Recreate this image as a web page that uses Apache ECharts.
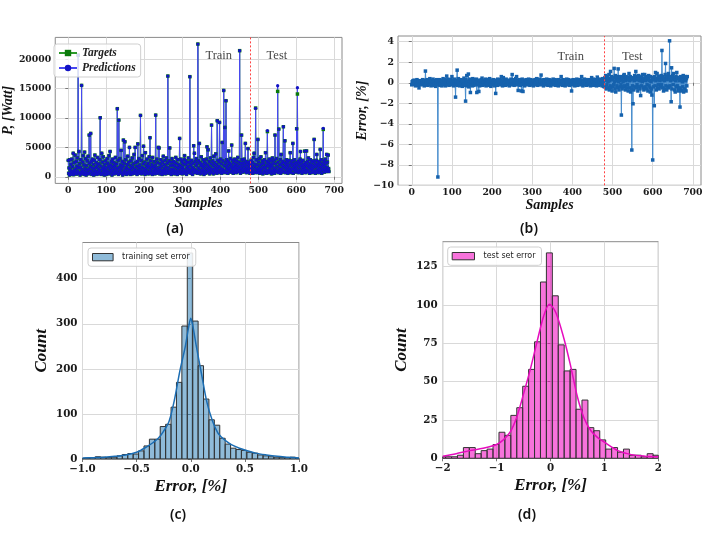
<!DOCTYPE html>
<html><head><meta charset="utf-8">
<script src="https://cdn.jsdelivr.net/npm/echarts@6/dist/echarts.min.js"></script>
<style>html,body{margin:0;padding:0;background:#fff}#c{width:706px;height:537px}</style>
</head><body><div id="c"></div>
<script>
// ---------- panel (a): power targets / predictions (W) ----------
const predictions = [
2800,600,1500,300,2900,1200,400,2100,800,3000,500,1700,900,4000,350,2400,1100,600,3700,1300,
700,2600,450,1800,3200,900,20700,1500,4300,600,2200,300,1600,2900,800,15560,1200,500,2500,3600,
900,2000,400,4200,1400,700,3100,300,1900,1100,2700,600,3500,1300,500,7100,2300,800,1700,7380,
1000,2600,400,1500,3000,700,2100,300,1200,2800,3700,600,1600,900,2400,400,1900,3300,800,1400,
500,2200,1100,2900,10050,700,1800,400,4000,1300,2500,600,3400,900,1600,300,2100,1200,2700,800,
1500,400,3100,1000,2300,600,1800,3600,500,1400,4300,800,2000,1100,2600,300,1700,3000,700,1300,
2400,500,1900,900,3300,600,1500,2200,800,11590,1200,2800,400,9650,1600,700,3100,1000,2000,4500,
600,1400,2600,300,1800,6250,900,2300,500,5960,1200,2900,700,1600,400,2100,3500,800,1300,2500,
600,5000,1000,1900,400,2700,1400,800,3200,500,1700,2200,900,3800,600,1300,5000,700,2400,1100,
1800,400,2600,5600,900,1500,3100,600,2000,1200,10450,800,2800,500,1600,3600,1000,2200,5200,700,
1400,2500,400,4100,1100,1900,600,3000,900,1500,2300,500,1800,3400,800,6650,1200,2700,600,1600,
2100,400,3300,1000,1700,700,2600,1300,500,2000,10500,900,1500,3000,600,2400,1100,5000,800,4900,
1600,500,2200,1200,2900,700,1800,400,2500,1000,3500,600,1400,2100,900,2800,500,1700,3200,1100,
700,2300,17150,1500,600,2700,1000,4900,800,1900,2500,400,1300,3100,900,2000,600,2600,1200,1800,
500,2400,1000,3300,700,1600,2200,400,2900,1100,1500,800,2000,6530,600,1900,3000,900,1400,2600,
500,1700,2300,800,1200,3000,3600,600,2100,1000,2700,400,1500,2400,900,1800,3200,700,1300,2500,
17040,900,2000,600,2800,1100,1600,400,2300,1400,5280,800,4000,1200,2600,700,1900,3100,1000,2200,
600,22600,1500,2700,800,5680,1300,2400,500,1900,3400,1000,2100,700,1600,2900,1200,400,2500,1800,
900,2300,600,3000,1400,5100,800,2000,4600,1100,1700,2600,500,1500,3200,900,2200,8800,1300,700,
2700,1900,500,3500,1200,2400,800,1600,3900,1000,2100,600,9540,1400,2800,900,1800,2500,9260,700,
1500,3000,1100,2200,600,5850,1300,2700,800,14700,1900,1000,8400,2400,700,12950,1600,2900,1200,2000,
600,2600,4400,1400,900,2300,1700,3100,800,2000,5400,1100,1500,2800,600,2400,1300,1800,3000,900,
2200,1600,700,2700,1200,2000,3300,900,1500,2500,1000,21470,1800,600,2300,1400,7100,2900,1100,1900,
800,2400,1500,3000,1000,2000,5680,1300,2600,700,1700,2200,1200,4800,900,2500,1400,1900,600,2100,
1500,2800,700,1800,1200,2400,600,3300,1000,4000,1600,2100,800,11650,1400,2900,700,2000,1200,6360,
900,2500,1500,3100,600,1900,1200,3400,800,2200,1400,2700,500,1700,2300,1000,2900,700,1600,4100,
1200,2000,600,2600,7840,1000,1800,2400,700,3000,1300,2100,900,1600,2700,500,1900,3200,1100,2300,
800,1500,2800,600,7100,1200,2200,900,3100,1700,1000,15500,2500,700,8120,1400,2000,1100,2900,600,
3800,1300,2300,800,1800,2600,8520,1000,1600,2400,6130,700,2100,1400,2900,900,1700,2500,600,2000,
1200,2800,800,1500,4100,1000,2300,700,1900,2700,1300,5680,600,2200,1600,2900,1100,1800,2400,800,
1400,8180,2000,15170,1000,2600,700,1700,2300,1200,3000,4300,900,1900,2500,600,1500,2800,1100,2100,
800,1600,4370,1300,2400,700,2000,4400,1100,1800,2600,900,3200,1500,2200,600,1700,2900,1200,2000,
700,2500,1400,1900,800,2700,1000,6360,1600,2300,600,1800,2800,1100,3800,900,2100,1500,2600,700,
1900,1200,2400,4660,1000,1700,2900,600,2200,1400,2000,8240,1100,2600,800,1800,3000,1300,2300,900,
3800,1600,2500,1000,3700,1400,900];
const targets = [
2800,600,1500,300,2900,1200,400,2100,800,3000,500,1700,900,4000,350,2400,1100,600,3700,1300,
700,2600,450,1800,3200,900,20700,1500,4300,600,2200,300,1600,2900,800,15560,1200,500,2500,3600,
900,2000,400,4200,1400,700,3100,300,1900,1100,2700,600,3500,1300,500,7100,2300,800,1700,7380,
1000,2600,400,1500,3000,700,2100,300,1200,2800,3700,600,1600,900,2400,400,1900,3300,800,1400,
500,2200,1100,2900,10050,700,1800,400,4000,1300,2500,600,3400,900,1600,300,2100,1200,2700,800,
1500,400,3100,1000,2300,600,1800,3600,500,1400,4300,800,2000,1100,2600,300,1700,3000,700,1300,
2400,500,1900,900,3300,600,1500,2200,800,11590,1200,2800,400,9650,1600,700,3100,1000,2000,4500,
600,1400,2600,300,1800,6250,900,2300,500,5960,1200,2900,700,1600,400,2100,3500,800,1300,2500,
600,5000,1000,1900,400,2700,1400,800,3200,500,1700,2200,900,3800,600,1300,5000,700,2400,1100,
1800,400,2600,5600,900,1500,3100,600,2000,1200,10450,800,2800,500,1600,3600,1000,2200,5200,700,
1400,2500,400,4100,1100,1900,600,3000,900,1500,2300,500,1800,3400,800,6650,1200,2700,600,1600,
2100,400,3300,1000,1700,700,2600,1300,500,2000,10500,900,1500,3000,600,2400,1100,5000,800,4900,
1600,500,2200,1200,2900,700,1800,400,2500,1000,3500,600,1400,2100,900,2800,500,1700,3200,1100,
700,2300,17150,1500,600,2700,1000,4900,800,1900,2500,400,1300,3100,900,2000,600,2600,1200,1800,
500,2400,1000,3300,700,1600,2200,400,2900,1100,1500,800,2000,6530,600,1900,3000,900,1400,2600,
500,1700,2300,800,1200,3000,3600,600,2100,1000,2700,400,1500,2400,900,1800,3200,700,1300,2500,
17040,900,2000,600,2800,1100,1600,400,2300,1400,5280,800,4000,1200,2600,700,1900,3100,1000,2200,
600,22600,1500,2700,800,5680,1300,2400,500,1900,3400,1000,2100,700,1600,2900,1200,400,2500,1800,
900,2300,600,3000,1400,5100,800,2000,4600,1100,1700,2600,500,1500,3200,900,2200,8800,1300,700,
2700,1900,500,3500,1200,2400,800,1600,3900,1000,2100,600,9540,1400,2800,900,1800,2500,9260,700,
1500,3000,1100,2200,600,5850,1300,2700,800,14700,1900,1000,8400,2400,700,12950,1600,2900,1200,2000,
600,2600,4400,1400,900,2300,1700,3100,800,2000,5400,1100,1500,2800,600,2400,1300,1800,3000,900,
2200,1600,700,2700,1200,2000,3300,900,1500,2500,1000,21470,1800,600,2300,1400,7100,2900,1100,1900,
800,2400,1500,3000,1000,2000,5680,1300,2600,700,1700,2200,1200,4800,900,2500,1400,1900,600,2100,
1500,2800,700,1800,1200,2400,600,3300,1000,4000,1600,2100,800,11700,1400,2900,700,2000,1200,6360,
900,2500,1500,3100,600,1900,1200,3400,800,2200,1400,2700,500,1700,2300,1000,2900,700,1600,4100,
1200,2000,600,2600,7700,1000,1800,2400,700,3000,1300,2100,900,1600,2700,500,1900,3200,1100,2300,
800,1500,2800,600,7100,1200,2200,900,3100,1700,1000,14540,2500,700,8120,1400,2000,1100,2900,600,
3800,1300,2300,800,1800,2600,8520,1000,1600,2400,6130,700,2100,1400,2900,900,1700,2500,600,2000,
1200,2800,800,1500,4100,1000,2300,700,1900,2700,1300,5680,600,2200,1600,2900,1100,1800,2400,800,
1400,8180,2000,14090,1000,2600,700,1700,2300,1200,3000,4300,900,1900,2500,600,1500,2800,1100,2100,
800,1600,4370,1300,2400,700,2000,4400,1100,1800,2600,900,3200,1500,2200,600,1700,2900,1200,2000,
700,2500,1400,1900,800,2700,1000,6360,1600,2300,600,1800,2800,1100,3800,900,2100,1500,2600,700,
1900,1200,2400,4660,1000,1700,2900,600,2200,1400,2000,8070,1100,2600,800,1800,3000,1300,2300,900,
3800,1600,2500,1000,3700,1400,900];

// ---------- panel (b): relative error per sample (%) ----------
const errors = [
-0.2,0.1,-0.1,0.2,0.05,-0.15,0.25,-0.05,0.1,-0.3,0.15,0,-0.2,0.3,-0.1,0.1,-0.25,0.2,-0.5,0.1,
0.05,-0.1,0.2,-0.2,0.15,-0.05,0.1,0.3,-0.15,0,0.2,-0.3,0.1,-0.1,1.14,0.25,-0.2,0.05,-0.1,0.3,
-0.25,0.15,0,-0.15,0.2,0.4,-0.1,0.1,-0.3,0.25,-0.05,0.15,-0.2,0.35,0.05,-0.25,0.1,-0.1,0.2,-0.35,
0.15,-0.05,0.3,-0.2,0.1,-9.19,0.2,-0.15,0.05,0.3,-0.25,0.1,-0.1,0.25,0,-0.3,0.15,-0.05,0.4,-0.2,
0.1,0.3,-0.15,0.05,-0.3,0.2,-0.1,0.65,0.15,-0.2,0.35,-0.05,0.1,-0.25,0.25,0,-0.15,0.3,-0.1,0.15,
0.6,-0.2,0.05,0.25,-0.3,0.1,-0.1,0.35,-0.2,-1.4,0.2,-0.05,0.15,1.23,-0.25,0.1,0.4,-0.1,0.2,-0.3,
0.05,0.25,-0.15,0.3,-0.05,0.1,-0.35,0.2,0,-0.2,0.45,-0.1,0.15,-0.25,-1.79,0.3,-0.05,0.7,-0.3,0.1,
-0.15,0.85,-0.4,0.2,-0.1,0.35,-0.95,0.05,0.25,-0.2,0.1,-0.3,0.4,-0.05,0.15,-0.25,0.3,-0.1,0.2,-0.15,
0.1,0.35,-0.95,0.05,-0.2,0.25,-0.05,-0.85,0.15,-0.3,0.2,0,-0.15,0.3,-0.1,0.45,-0.25,0.1,0.2,-0.05,
0.25,-0.2,0.1,-0.1,0.35,-0.3,0.05,0.2,-0.15,0.3,-0.05,0.15,-0.25,0.1,0.4,-0.1,0.2,-0.35,0.05,0.25,
-0.15,0.1,-0.05,0.3,-0.2,0.15,-0.3,0.05,0.25,-1.04,0.1,-0.1,0.2,-0.25,0.35,0,0.15,-0.15,0.3,-0.05,
0.1,-0.2,0.25,0.6,-0.1,0.15,-0.3,0.05,0.5,-0.15,0.2,-0.05,0.3,-0.25,0.1,0.35,-0.1,0.05,-0.2,0.15,
0.25,-0.1,0.1,-0.3,0.2,0.05,-0.15,0.35,-0.05,0.15,0.8,-0.2,0.1,-0.1,0.3,-0.25,0.05,0.2,-0.15,0.4,
-0.05,0.6,0.1,-0.2,0.25,-0.75,0.15,-0.1,0.3,0.05,-0.25,0.2,-0.05,-0.8,0.1,0.35,-0.15,-0.85,0.2,-0.1,
0.15,-0.3,0.05,0.25,-0.1,0.3,-0.2,0.1,0,0.2,-0.15,0.35,-0.05,0.1,-0.25,0.15,0.3,-0.1,0.05,-0.2,
0.25,-0.05,0.15,-0.3,0.2,0.05,-0.15,0.3,-0.1,0.1,-0.2,0.4,-0.05,0.15,-0.25,0.2,0,-0.15,0.35,-0.1,
0.1,0.2,0.75,-0.2,0.05,0.25,-0.1,0.15,-0.3,0.3,-0.05,0.1,-0.2,0.25,0.05,-0.15,0.35,-0.1,0.2,-0.25,
0.15,-0.05,0.3,-0.15,0.1,0.2,-0.3,0.05,0.25,-0.1,0.15,-0.2,0.35,0,-0.15,0.2,-0.05,0.3,-0.25,0.1,
-0.1,0.25,-0.2,0.15,0.05,-0.3,0.3,-0.05,0.1,-0.15,0.2,-0.1,0.6,-0.2,0.15,0.05,-0.25,0.3,-0.1,0.2,
-0.05,0.15,-0.3,0.25,0.1,-0.15,0.35,-0.1,0.05,-0.2,0.3,-0.05,0.2,-0.25,0.1,0.15,-0.15,0.25,-0.8,0.05,
0.2,-0.1,0.3,-0.2,0.1,0.05,-0.3,0.25,-0.05,0.15,-0.15,0.35,0,-0.25,0.2,0.1,-0.1,0.3,-0.2,0.05,
0.15,-0.05,0.25,0.6,-0.15,0.1,-0.3,0.2,0.05,-0.1,0.35,-0.2,0.15,-0.05,0.3,-0.25,0.1,0.2,-0.15,0.05,
-0.1,0.3,-0.2,0.15,0.05,-0.3,0.25,-0.05,0.5,-0.15,0.2,-0.1,0.35,-0.25,0.1,0.05,-0.2,0.3,-0.05,0.15,
-0.3,0.2,0.55,-0.1,0.1,-0.25,0.35,-0.05,0.15,-0.2,0.3,0,-0.15,0.25,-0.3,0.4,-0.1,0.2,-0.35,0.3,
-0.4,0.5,0.2,0.7,-0.6,0.3,-0.2,0.6,-0.5,0.1,0.4,0.8,-0.7,0.2,-0.3,1.1,-0.5,0.4,0.6,-0.8,
0.3,-0.4,0.5,-0.2,1.4,0.1,-0.6,0.7,-0.9,0.2,0.5,-0.3,0.6,-0.5,1.35,0.1,-0.7,0.4,0.2,-0.4,
0.6,-0.2,-3.15,0.3,-0.6,0.5,0.1,-0.4,0.7,0.8,-0.3,0.4,-0.7,0.2,0.6,-0.5,0.3,-0.2,0.5,-0.8,
0.4,0.9,-0.5,0.2,0.6,-0.9,0.3,-0.6,-6.56,0.5,-0.3,-2.05,0.4,-0.7,0.2,0.7,-0.4,0.3,1.1,-0.5,
0.6,-0.2,0.5,-0.8,0.3,0.7,-0.4,0.2,-0.6,0.4,-1.25,0.5,-0.3,0.6,0.1,0.8,-0.5,0.3,-0.7,0.4,
0.8,-0.4,0.2,0.6,-0.6,0.3,-0.2,0.5,-0.8,0.4,0.7,-0.3,0.2,-0.5,-0.9,0.6,0.1,-0.6,-1.2,0.3,
-7.53,0.5,-0.4,0.3,-2.24,0.6,-0.3,1.0,0.2,-0.7,0.4,0.9,-0.5,0.3,-0.2,0.6,-0.6,0.5,0.2,0.6,
-0.4,0.7,-0.2,3.15,0.3,-0.5,0.6,-0.8,0.4,0.2,-0.6,0.8,1.88,-0.3,0.5,-0.7,0.3,0.6,-0.4,0.9,
-0.5,0.4,4.09,-0.3,0.6,0.2,-1.85,1.46,-0.6,0.4,0.7,-0.2,0.9,0.3,-0.7,0.5,-0.9,0.2,0.6,-0.4,
1.0,-0.3,0.5,-0.6,-0.8,0.4,0.2,-0.5,-2.37,0.6,0.3,-0.7,-0.8,0.5,0.1,-0.4,0.7,-0.9,0.3,0.5,
-0.6,0.6,0.2,-0.8,0.4,-0.3,0.6];
const splitSample = 479;              // train / test boundary (sample index)
const phaseNames = ['Train', 'Test'];
const phaseX = [396, 549];            // sample position of the phase captions
const phaseYa = 20600, phaseYb = 2.55;

// ---------- panel (c): training set error histogram ----------
const trainBinStart = -1.032, trainBinWidth = 0.05;
const trainCounts = [1,2,3,5,4,3,4,7,10,12,11,18,29,44,44,72,77,115,170,295,457,306,207,133,87,75,46,33,24,21,19,15,13,9,7,5,4,3,3,4,2];
const trainKdeX = [-1.0,-0.9,-0.8,-0.7,-0.6,-0.5,-0.45,-0.4,-0.35,-0.3,-0.25,-0.2,-0.15,-0.1,-0.05,-0.02,0,0.02,0.05,0.1,0.15,0.2,0.25,0.3,0.35,0.4,0.45,0.5,0.6,0.7,0.8,0.9,1.0];
const trainKdeY = [2,3,4,6,9,15,21,28,36,46,62,84,132,196,250,292,312,294,252,188,125,85,58,45,36,29,24,20,13,9,6,4,2];

// ---------- panel (d): test set error histogram ----------
const testBinStart = -2.056, testBinWidth = 0.11;
const testCounts = [1,1,1,2,7,7,3,5,6,9,17,15,28,33,47,58,76,115,134,106,74,57,58,32,38,20,18,12,6,7,4,6,2,2,1,3,2];
const testKdeX = [-2.0,-1.75,-1.5,-1.25,-1.0,-0.875,-0.75,-0.625,-0.5,-0.375,-0.25,-0.125,-0.02,0.1,0.25,0.375,0.5,0.625,0.75,0.875,1.0,1.25,1.5,1.75,2.0];
const testKdeY = [1.3,3,5,6.5,9,12,17,27,42,58,76,93,100.5,95,78,60,40,26,18,13.5,10.5,5,2.4,1.4,1];

// ---------- ticks ----------
const sampleTicks = [0,100,200,300,400,500,600,700];
const powerTicks = [0,5000,10000,15000,20000];
const errTicksB = [-10,-8,-6,-4,-2,0,2,4];
const errTicksC = [-1.0,-0.5,0.0,0.5,1.0];
const countTicksC = [0,100,200,300,400];
const errTicksD = [-2,-1,0,1,2];
const countTicksD = [0,25,50,75,100,125];
const captions = ['(a)','(b)','(c)','(d)'];

// ---------- build ----------
const chart = echarts.init(document.getElementById('c'), null, {width:706, height:537});
const SERIF = '"Liberation Serif", serif';
const TICKF = '"DejaVu Serif", serif';
const minus = s => String(s).replace('-', '\u2212');

function axis(grid, min, max, ticks, fmt, fs, margin, name, nameGap, nameSize) {
  return {
    gridIndex: grid, type: 'value', min, max, name, nameLocation: 'middle', nameGap,
    nameTextStyle: {fontFamily: SERIF, fontStyle: 'italic', fontWeight: 'bold', fontSize: nameSize, color: '#111'},
    axisLine: {show: false},
    axisTick: {show: true, customValues: ticks, length: 3, lineStyle: {color: '#777'}},
    axisLabel: {customValues: ticks, formatter: fmt, margin, fontFamily: TICKF, fontWeight: 'bold', fontSize: fs, color: '#1a1a1a'},
    splitLine: {show: true, lineStyle: {color: '#d9d9d9', width: 1}}
  };
}
const gridStyle = {show: true, borderColor: '#8a8a8a', borderWidth: 1, backgroundColor: 'transparent'};

function histSeries(name, xi, start, width, counts, fill, edge) {
  return {
    name, type: 'custom', xAxisIndex: xi, yAxisIndex: xi,
    itemStyle: {color: fill, borderColor: edge, borderWidth: 1},
    data: counts.map((c, i) => [start + i * width, start + (i + 1) * width, c]),
    renderItem: (params, api) => {
      const p0 = api.coord([api.value(0), api.value(2)]);
      const p1 = api.coord([api.value(1), 0]);
      const cs = params.coordSys;
      const r = echarts.graphic.clipRectByRect(
        {x: p0[0], y: p0[1], width: p1[0] - p0[0], height: p1[1] - p0[1]},
        {x: cs.x, y: cs.y, width: cs.width, height: cs.height});
      return r && {type: 'rect', shape: r, style: {fill, stroke: edge, lineWidth: 1}};
    }
  };
}
const pairs = arr => arr.map((v, i) => [i, v]);

const splitMark = {
  silent: true, symbol: ['none', 'none'], label: {show: false},
  lineStyle: {color: '#ff4040', type: [2, 2], width: 1}, data: [{xAxis: splitSample}]
};
function phaseSeries(xi, y) {
  return {
    type: 'scatter', xAxisIndex: xi, yAxisIndex: xi, symbolSize: 0, silent: true, z: 10,
    data: phaseNames.map((n, i) => ({value: [phaseX[i], y], name: n})),
    label: {show: true, position: 'inside', formatter: p => p.name, fontFamily: SERIF, fontSize: 12.5, color: '#111'}
  };
}
const capStyle = {fontFamily: '"Noto Sans", sans-serif', fontWeight: 600, fontSize: 14, fill: '#111', align: 'center', verticalAlign: 'middle'};

chart.setOption({
  animation: false,
  backgroundColor: '#fff',
  grid: [
    Object.assign({left: 50.5, top: 37.4, width: 291.5, height: 146}, gridStyle),
    Object.assign({left: 398, top: 36, width: 303, height: 149.3}, gridStyle),
    Object.assign({left: 82.5, top: 242.5, width: 216.5, height: 216.5}, gridStyle),
    Object.assign({left: 442.7, top: 241.7, width: 215.6, height: 216.6}, gridStyle)
  ],
  xAxis: [
    axis(0, -34.3, 720.3, sampleTicks, v => v, 9.3, 3, 'Samples', 12, 14),
    axis(1, -34.3, 720.3, sampleTicks, v => v, 9.3, 3, 'Samples', 12, 14),
    axis(2, -1, 1, errTicksC, v => minus(v.toFixed(1)), 10.3, 5, 'Error, [%]', 19, 17),
    axis(3, -2, 2, errTicksD, v => minus(v), 10.3, 5, 'Error, [%]', 19, 17)
  ],
  yAxis: [
    axis(0, -1130, 23730, powerTicks, v => v, 9.3, 4, 'P, [Watt]', 36, 14),
    axis(1, -10, 4.56, errTicksB, v => minus(v), 9.3, 4, 'Error, [%]', 27, 14),
    axis(2, 0, 480.3, countTicksC, v => v, 10.3, 5, 'Count', 32, 17),
    axis(3, 0, 141.3, countTicksD, v => v, 10.3, 5, 'Count', 33, 17)
  ],
  legend: [
    {data: ['Targets', 'Predictions'], orient: 'vertical', left: 54, top: 44, itemWidth: 18, itemHeight: 8, itemGap: 3,
     padding: [3, 5, 3, 4], backgroundColor: 'rgba(255,255,255,0.82)', borderColor: '#cfcfcf', borderWidth: 1, borderRadius: 3,
     textStyle: {fontFamily: SERIF, fontStyle: 'italic', fontWeight: 'bold', fontSize: 11.5, color: '#222'}},
    {data: ['training set error'], left: 88, top: 248, icon: 'rect', itemWidth: 20.6, itemHeight: 7.3,
     padding: [5, 6, 5, 4], backgroundColor: 'rgba(255,255,255,0.85)', borderColor: '#d0d0d0', borderWidth: 1, borderRadius: 3,
     itemStyle: {borderColor: '#333', borderWidth: 1},
     textStyle: {fontFamily: '"DejaVu Sans", sans-serif', fontSize: 8, color: '#222', padding: [0, 0, 0, 4]}},
    {data: ['test set error'], left: 447.7, top: 247, icon: 'rect', itemWidth: 22.3, itemHeight: 7.3,
     padding: [5, 6, 5, 4], backgroundColor: 'rgba(255,255,255,0.85)', borderColor: '#d0d0d0', borderWidth: 1, borderRadius: 3,
     itemStyle: {borderColor: '#333', borderWidth: 1},
     textStyle: {fontFamily: '"DejaVu Sans", sans-serif', fontSize: 8, color: '#222', padding: [0, 0, 0, 4]}}
  ],
  series: [
    {name: 'Targets', type: 'line', xAxisIndex: 0, yAxisIndex: 0, data: pairs(targets),
     lineStyle: {color: '#2a9a2a', width: 1}, symbol: 'rect', symbolSize: 3.5, itemStyle: {color: '#0b7a0b'}, silent: true},
    {name: 'Predictions', type: 'line', xAxisIndex: 0, yAxisIndex: 0, data: pairs(predictions),
     lineStyle: {color: 'rgb(72,72,242)', width: 1}, symbol: 'circle', symbolSize: 3.3, itemStyle: {color: '#1212c4'},
     silent: true, markLine: splitMark},
    phaseSeries(0, phaseYa),
    {name: 'Error', type: 'line', xAxisIndex: 1, yAxisIndex: 1, data: pairs(errors),
     lineStyle: {color: 'rgb(70,140,205)', width: 1}, symbol: 'rect', symbolSize: 3.5, itemStyle: {color: '#1662ad'},
     silent: true, markLine: splitMark},
    phaseSeries(1, phaseYb),
    histSeries('training set error', 2, trainBinStart, trainBinWidth, trainCounts, 'rgba(31,119,180,0.5)', '#333'),
    {type: 'line', xAxisIndex: 2, yAxisIndex: 2, data: trainKdeX.map((x, i) => [x, trainKdeY[i]]), smooth: 0.3,
     symbol: 'none', lineStyle: {color: '#1b6db3', width: 1.5}, silent: true},
    histSeries('test set error', 3, testBinStart, testBinWidth, testCounts, 'rgba(240,0,190,0.55)', '#333'),
    {type: 'line', xAxisIndex: 3, yAxisIndex: 3, data: testKdeX.map((x, i) => [x, testKdeY[i]]), smooth: 0.3,
     symbol: 'none', lineStyle: {color: '#e60cbe', width: 1.5}, silent: true}
  ],
  graphic: [
    {type: 'text', x: 175, y: 229, style: Object.assign({text: captions[0]}, capStyle)},
    {type: 'text', x: 529, y: 229, style: Object.assign({text: captions[1]}, capStyle)},
    {type: 'text', x: 178, y: 515, style: Object.assign({text: captions[2]}, capStyle)},
    {type: 'text', x: 527, y: 515, style: Object.assign({text: captions[3]}, capStyle)}
  ]
});
</script></body></html>
